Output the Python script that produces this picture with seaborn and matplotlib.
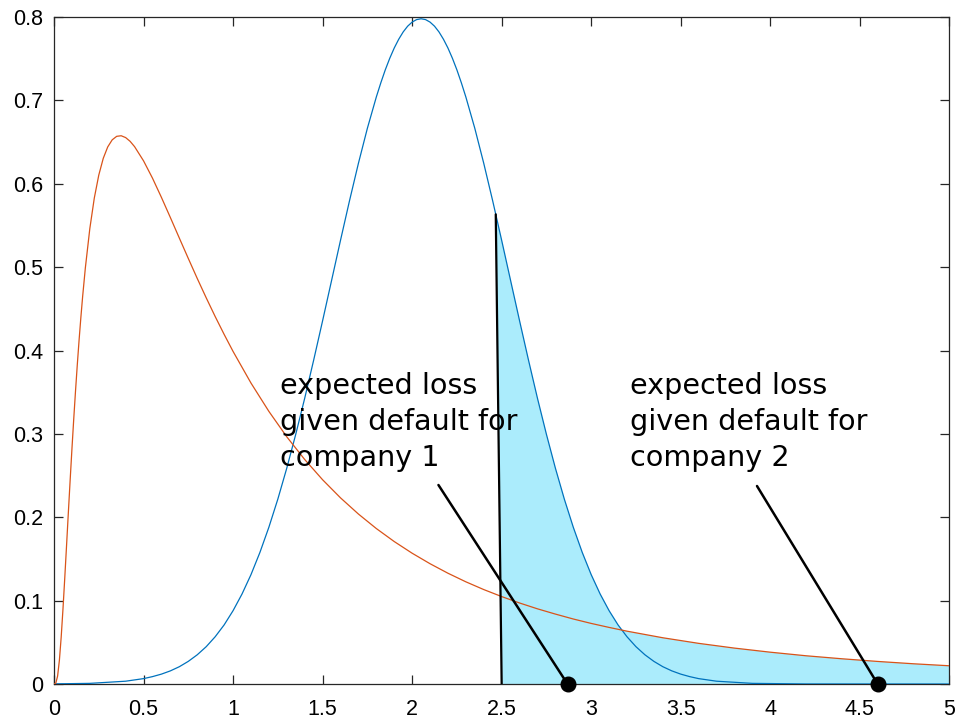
import numpy as np
import pandas as pd
import matplotlib
matplotlib.use("Agg")
import matplotlib.pyplot as plt
import seaborn as sns

# Company 1 loss density (blue)
blue_x = [0.0, 0.2, 0.4, 0.5, 0.55, 0.6, 0.65, 0.7, 0.75, 0.8, 0.85, 0.9, 0.95, 1.0,
          1.05, 1.1, 1.15, 1.2, 1.25, 1.3, 1.35, 1.4, 1.45, 1.5, 1.55, 1.6, 1.65,
          1.7, 1.75, 1.8, 1.825, 1.85, 1.875, 1.9, 1.925, 1.95, 1.975, 2.0, 2.025,
          2.05, 2.075, 2.1, 2.125, 2.15, 2.175, 2.2, 2.225, 2.25, 2.275, 2.3, 2.35,
          2.4, 2.45, 2.5, 2.55, 2.6, 2.65, 2.7, 2.75, 2.8, 2.85, 2.9, 2.95, 3.0,
          3.05, 3.1, 3.15, 3.2, 3.25, 3.3, 3.35, 3.4, 3.45, 3.5, 3.55, 3.6, 3.7,
          3.9, 4.2, 5.0]
blue_y = [0.0002, 0.0008, 0.0034, 0.0065, 0.0089, 0.0119, 0.0158, 0.0208, 0.0272,
          0.0351, 0.0448, 0.0567, 0.0709, 0.0880, 0.1080, 0.1312, 0.1579, 0.1881,
          0.2218, 0.2590, 0.2995, 0.3427, 0.3884, 0.4357, 0.4839, 0.5322, 0.5794,
          0.6245, 0.6665, 0.7041, 0.7210, 0.7366, 0.7505, 0.7628, 0.7733, 0.7821,
          0.7890, 0.7939, 0.7969, 0.7979, 0.7969, 0.7939, 0.7890, 0.7821, 0.7733,
          0.7628, 0.7505, 0.7366, 0.7210, 0.7041, 0.6665, 0.6245, 0.5794, 0.5322,
          0.4839, 0.4357, 0.3884, 0.3427, 0.2995, 0.2590, 0.2218, 0.1881, 0.1579,
          0.1312, 0.1080, 0.0880, 0.0709, 0.0567, 0.0448, 0.0351, 0.0272, 0.0208,
          0.0158, 0.0119, 0.0089, 0.0065, 0.0034, 0.0008, 0.0001, 0.0]

# Company 2 loss density (orange)
orange_x = [0.0, 0.01, 0.02, 0.03, 0.04, 0.05, 0.06, 0.07, 0.08, 0.09, 0.1, 0.11,
            0.12, 0.13, 0.14, 0.15, 0.16, 0.175, 0.2, 0.225, 0.25, 0.275, 0.3,
            0.325, 0.35, 0.375, 0.4, 0.425, 0.45, 0.5, 0.55, 0.6, 0.65, 0.7, 0.75,
            0.8, 0.85, 0.9, 0.95, 1.0, 1.1, 1.2, 1.3, 1.4, 1.5, 1.6, 1.7, 1.8, 1.9,
            2.0, 2.1, 2.2, 2.3, 2.4, 2.5, 2.6, 2.7, 2.8, 2.9, 3.0, 3.1, 3.2, 3.4,
            3.6, 3.8, 4.0, 4.2, 4.4, 4.6, 4.8, 5.0]
orange_y = [0.0, 0.0010, 0.0095, 0.0284, 0.0561, 0.0898, 0.1271, 0.1660, 0.2054,
            0.2441, 0.2816, 0.3174, 0.3512, 0.3829, 0.4125, 0.4398, 0.4651, 0.4991,
            0.5463, 0.5829, 0.6104, 0.6305, 0.6442, 0.6527, 0.6569, 0.6576, 0.6554,
            0.6509, 0.6445, 0.6275, 0.6067, 0.5836, 0.5594, 0.5348, 0.5104, 0.4864,
            0.4632, 0.4408, 0.4194, 0.3989, 0.3610, 0.3270, 0.2965, 0.2693, 0.2450,
            0.2233, 0.2039, 0.1865, 0.1709, 0.1569, 0.1443, 0.1329, 0.1226, 0.1133,
            0.1049, 0.0972, 0.0902, 0.0839, 0.0780, 0.0727, 0.0679, 0.0634, 0.0555,
            0.0488, 0.0431, 0.0382, 0.0339, 0.0303, 0.0271, 0.0243, 0.0219]

# Default threshold cut (top and bottom ends of the boundary line)
cut_top_x = 2.467
cut_bottom_x = 2.50

# Expected loss given default markers
el_x = [2.868, 4.600]
el_y = [0.0, 0.0]
label_texts = ["expected loss\ngiven default for\ncompany 1",
               "expected loss\ngiven default for\ncompany 2"]
label_x = [1.263, 3.218]
label_y = [0.2615, 0.2615]
pointer_x = [2.147, 3.926]
pointer_y = [0.2387, 0.2375]

BLUE = "#0072BD"
ORANGE = "#D95319"
FILL = "#abecfc"
AXC = "#262626"

sns.set_theme(style="white")
plt.rcParams["font.family"] = ["Liberation Sans", "DejaVu Sans"]

fig = plt.figure(figsize=(9.56, 7.24), dpi=100)
ax = fig.add_axes([0.0565, 0.0552, 0.9365, 0.9213])

bx = np.asarray(blue_x)
by = np.asarray(blue_y)
ox = np.asarray(orange_x)
oy = np.asarray(orange_y)

# Shaded tail beyond the threshold: union of the areas under both curves
top_y = np.interp(cut_top_x, bx, by)
mb = bx > cut_top_x
ax.fill(np.r_[cut_bottom_x, cut_top_x, bx[mb], bx[mb][-1]],
        np.r_[0.0, top_y, by[mb], 0.0], color=FILL, lw=0, zorder=1)
mo = ox > cut_bottom_x
o_start = np.interp(cut_bottom_x, ox, oy)
ax.fill(np.r_[cut_bottom_x, cut_bottom_x, ox[mo], ox[mo][-1]],
        np.r_[0.0, o_start, oy[mo], 0.0], color=FILL, lw=0, zorder=1)

df_b = pd.DataFrame({"x": bx, "y": by})
df_o = pd.DataFrame({"x": ox, "y": oy})
sns.lineplot(data=df_b, x="x", y="y", ax=ax, color=BLUE, lw=0.9, zorder=3,
             estimator=None, sort=False)
sns.lineplot(data=df_o, x="x", y="y", ax=ax, color=ORANGE, lw=0.9, zorder=3,
             estimator=None, sort=False)

# Threshold boundary
ax.plot([cut_bottom_x, cut_top_x], [0.0, top_y], color="black", lw=1.6, zorder=4)

# Annotations
for tx, ty, t, px, py, ex, ey in zip(label_x, label_y, label_texts,
                                     pointer_x, pointer_y, el_x, el_y):
    ax.text(tx, ty, t, fontsize=20.6, family="DejaVu Sans", ha="left",
            va="baseline", linespacing=1.36, color="black", zorder=6)
    ax.plot([px, ex], [py, ey], color="black", lw=1.8, zorder=5)
ax.plot(el_x, el_y, "o", color="black", ms=10.5, zorder=7, clip_on=False)

ax.set_xlim(0, 5)
ax.set_ylim(0, 0.8)
ax.set_xticks(np.arange(0, 5.01, 0.5))
ax.set_xticklabels(["0", "0.5", "1", "1.5", "2", "2.5", "3", "3.5", "4", "4.5", "5"])
ax.set_yticks(np.arange(0, 0.81, 0.1))
ax.set_yticklabels(["0", "0.1", "0.2", "0.3", "0.4", "0.5", "0.6", "0.7", "0.8"])
ax.set_xlabel("")
ax.set_ylabel("")
for s in ax.spines.values():
    s.set_visible(True)
    s.set_color(AXC)
    s.set_linewidth(0.9)
ax.tick_params(axis="both", direction="in", length=6.5, width=0.9, color=AXC,
               labelsize=15.5, labelcolor="black", top=True, right=True,
               bottom=True, left=True)
ax.tick_params(axis="x", pad=11)
ax.tick_params(axis="y", pad=8)
ax.grid(False)

fig.savefig("out.png", dpi=100)
